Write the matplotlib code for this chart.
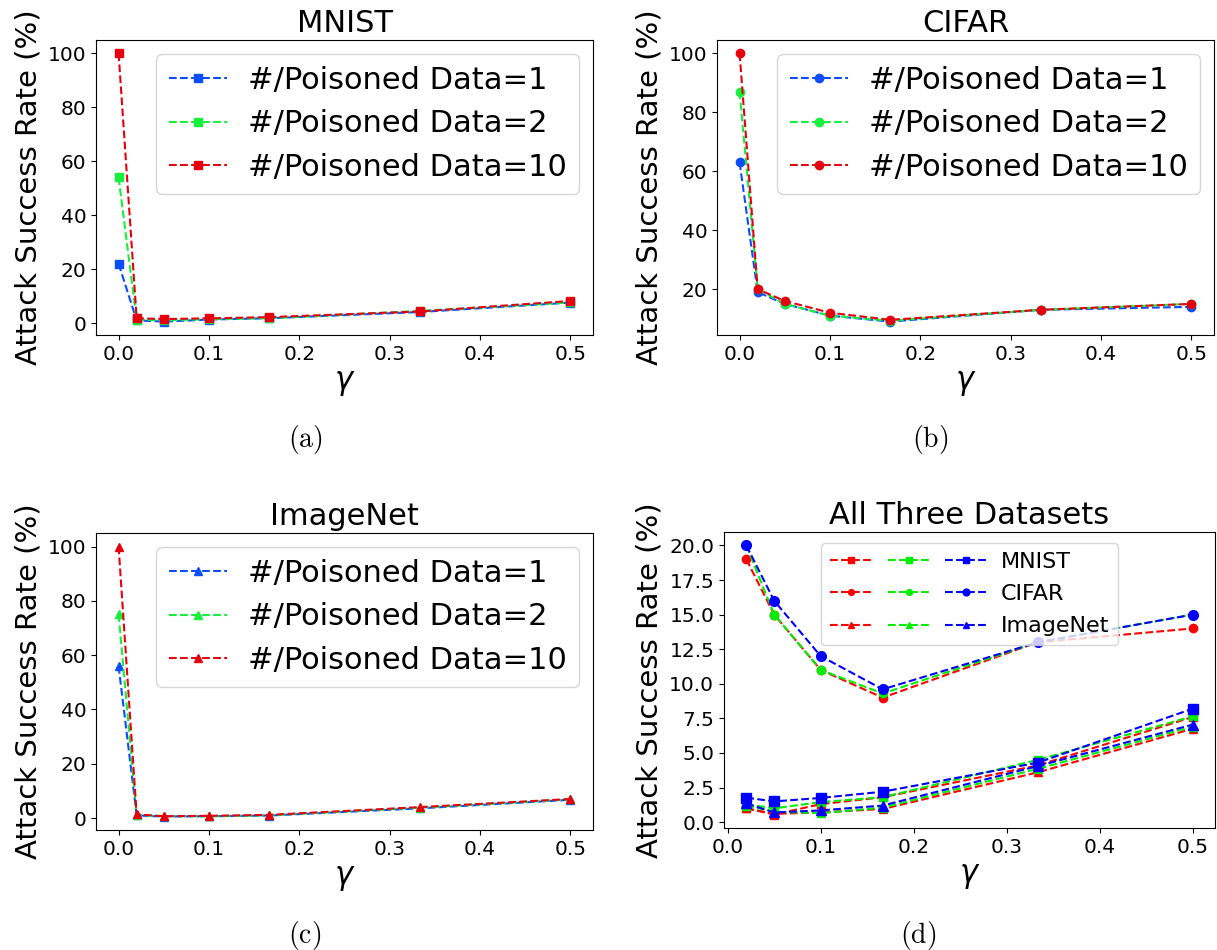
import numpy as np
import matplotlib
matplotlib.use("Agg")
import matplotlib.pyplot as plt
from matplotlib.ticker import MultipleLocator, FormatStrFormatter

# gamma values on the x axis
gamma = [0.0, 0.02, 0.05, 0.1, 1/6, 1/3, 0.5]
n_poison = [1, 2, 10]

# attack success rate (%) per dataset, one list per #poisoned data
mnist_1 = [22, 1.0, 0.55, 1.3, 1.8, 4.1, 7.6]
mnist_2 = [54, 1.3, 1.0, 1.45, 1.8, 4.5, 7.65]
mnist_10 = [100, 1.77, 1.5, 1.75, 2.2, 4.3, 8.2]

cifar_1 = [63, 19, 15, 11, 9.0, 13, 14]
cifar_2 = [87, 20, 15, 11, 9.3, 13, 15]
cifar_10 = [100, 20, 16, 12, 9.6, 13, 15]

imagenet_1 = [56, 1.0, 0.6, 0.7, 0.95, 3.6, 6.75]
imagenet_2 = [75, 1.2, 0.75, 0.65, 1.05, 3.85, 6.9]
imagenet_10 = [100, 1.35, 0.7, 0.85, 1.2, 4.05, 7.05]

W, H = 1217, 950
fig = plt.figure(figsize=(W / 100, H / 100), dpi=100)

def px_axes(x0, y0, x1, y1):
    return fig.add_axes([x0 / W, 1 - y1 / H, (x1 - x0) / W, (y1 - y0) / H])

ax_a = px_axes(96, 40, 593, 335)
ax_b = px_axes(717, 40, 1214, 335)
ax_c = px_axes(96, 533, 593, 830)
ax_d = px_axes(724, 532, 1215, 828)

cols = ['#0a4cff', '#14f03c', '#e6000f']
TICK = 14.5
TITLE = 22
LABEL = 21

panels = [
    (ax_a, 'MNIST', [mnist_1, mnist_2, mnist_10], 's'),
    (ax_b, 'CIFAR', [cifar_1, cifar_2, cifar_10], 'o'),
    (ax_c, 'ImageNet', [imagenet_1, imagenet_2, imagenet_10], '^'),
]

for ax, title, series, mk in panels:
    for vals, n, c in zip(series, n_poison, cols):
        ax.plot(gamma, vals, linestyle='--', marker=mk, color=c, markersize=6,
                linewidth=1.5, label=f'#/Poisoned Data={n}')
    ax.set_title(title, fontsize=TITLE)
    ax.set_ylabel('Attack Success Rate (%)', fontsize=LABEL)
    ax.set_xlabel(r'$\gamma$', fontsize=TITLE)
    ax.tick_params(labelsize=TICK)
    ax.legend(loc='upper right', fontsize=22, handlelength=1.9,
              handletextpad=0.7, labelspacing=0.47, borderpad=0.4,
              borderaxespad=0.45)

# panel (d): all three datasets without gamma = 0
d_cols = ['#ff0000', '#00ee00', '#0000ff']
d_sets = [
    ('MNIST', [mnist_1, mnist_2, mnist_10], 's'),
    ('CIFAR', [cifar_1, cifar_2, cifar_10], 'o'),
    ('ImageNet', [imagenet_1, imagenet_2, imagenet_10], '^'),
]
handles = {}
for name, series, mk in d_sets:
    for i, (vals, c) in enumerate(zip(series, d_cols)):
        ms = 7 if i == 2 else 6
        h, = ax_d.plot(gamma[1:], vals[1:], linestyle='--', marker=mk, color=c,
                       markersize=ms, linewidth=1.5)
        handles[(name, i)] = h

leg_handles = []
leg_labels = []
for i in range(3):
    for name, _, _ in d_sets:
        leg_handles.append(handles[(name, i)])
        leg_labels.append(name if i == 2 else '')
ax_d.legend(leg_handles, leg_labels, loc='upper center', ncol=3, fontsize=16,
            markerscale=0.7, handlelength=1.9, handletextpad=0.6,
            columnspacing=0.1, labelspacing=0.55)
ax_d.set_title('All Three Datasets', fontsize=TITLE)
ax_d.set_ylabel('Attack Success Rate (%)', fontsize=LABEL)
ax_d.set_xlabel(r'$\gamma$', fontsize=TITLE)
ax_d.tick_params(labelsize=TICK)
ax_d.yaxis.set_major_locator(MultipleLocator(2.5))
ax_d.yaxis.set_major_formatter(FormatStrFormatter('%.1f'))

# subfigure captions
for label, x, y in [('(a)', 305, 440), ('(b)', 930, 440),
                    ('(c)', 305, 935), ('(d)', 918, 935)]:
    fig.text(x / W, 1 - y / H, r'$\mathrm{' + label + '}$', fontsize=20,
             ha='center', va='center', math_fontfamily='cm')

fig.savefig('out.png', dpi=100)
